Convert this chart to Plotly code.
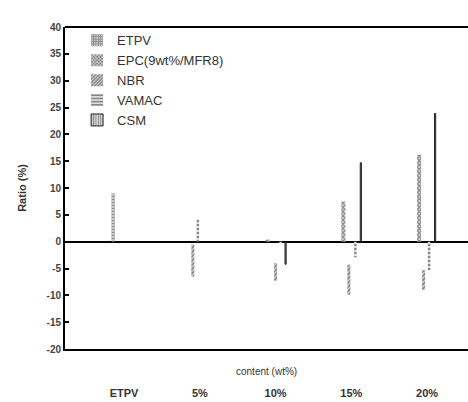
import plotly.graph_objects as go

# Categories along the x axis
categories = ["ETPV", "5%", "10%", "15%", "20%"]

# Ratio (%) for each material at each content level (None = not drawn)
etpv = [9.0, None, None, None, None]
epc = [None, None, 0.4, 7.5, 16.2]
nbr_top = [None, -0.5, -4.0, -4.3, -5.3]
nbr_bottom = [None, -6.5, -7.3, -9.9, -9.0]
vamac = [None, 4.2, -0.4, -2.9, -5.3]
csm = [None, None, -4.2, 14.7, 23.9]

# y axis ticks
y_ticks = [40, 35, 30, 25, 20, 15, 10, 5, 0, -5, -10, -15, -20]
y_tick_text = ["40", "35", "30", "25", "20", "15", "10", "5", "0", "-5", "-10", "-15", "-20"]

# ---- geometry helpers (pixels -> x axis units) ----
X_RANGE = [-0.78, 4.54]
PLOT_W = 468 - 65
PLOT_H = 349 - 27
PX = (X_RANGE[1] - X_RANGE[0]) / PLOT_W


def bar_geom(centers_px, width_px):
    """Return (offset, width) in axis units for thin bars centred at given pixel shifts."""
    w = width_px * PX
    if isinstance(centers_px, (list, tuple)):
        return [c * PX - w / 2 for c in centers_px], w
    return centers_px * PX - w / 2, w


xs = list(range(len(categories)))
INK = "#111111"

fig = go.Figure()


def add_bar(name, y, base, centers_px, width_px, shape, size, solidity, line_w=0):
    off, w = bar_geom(centers_px, width_px)
    fig.add_trace(go.Bar(
        name=name, x=xs, y=y, base=base, offset=off, width=w,
        legendgroup=name,
        marker=dict(
            color="white",
            line=dict(width=line_w, color=INK),
            pattern=dict(shape=shape, size=size, solidity=solidity,
                         fgcolor=INK, bgcolor="white", fillmode="overlay"),
        ),
        hoverinfo="skip",
    ))


nbr_len = [None if (t is None or b is None) else b - t for t, b in zip(nbr_top, nbr_bottom)]

add_bar("ETPV", etpv, None, -11, 3, "+", 3, 0.75)
add_bar("EPC(9wt%/MFR8)", epc, None, -8, 4, "x", 3, 0.75)
add_bar("NBR", nbr_len, nbr_top, [0, -7, 0, -2.5, -3.5], 3, "/", 3, 0.75)
add_bar("VAMAC", vamac, None, [0, -2, 5, 4, 2], 2.5, "-", 4, 0.65)
add_bar("CSM", csm, None, [0, 0, 10, 9.5, 8], 1.2, "|", 3, 0.6, line_w=0.9)

FONT = "Liberation Sans, Arial, sans-serif"

fig.update_layout(
    width=468, height=402,
    margin=dict(l=65, r=0, t=27, b=402 - 349),
    paper_bgcolor="white", plot_bgcolor="white",
    font=dict(family=FONT, color="#333333"),
    showlegend=True,
    legend=dict(
        x=0.03, y=1.005, xanchor="left", yanchor="top",
        bgcolor="rgba(0,0,0,0)", borderwidth=0,
        font=dict(family=FONT, size=13, color="#333333"),
        tracegroupgap=8, traceorder="normal",
    ),
    barmode="overlay",
    xaxis=dict(
        range=X_RANGE, showgrid=False, zeroline=False, automargin=False,
        showline=True, linewidth=2, linecolor="black", mirror=False,
        ticks="", tickmode="array", tickvals=xs, ticktext=categories,
        ticklabelstandoff=33,
        tickfont=dict(family=FONT, size=11, color="#333333", weight="bold"),
    ),
    yaxis=dict(
        range=[-20, 40], tickmode="array", tickvals=y_ticks, ticktext=y_tick_text,
        automargin=False, mirror=False,
        showgrid=False, showline=True, linewidth=2, linecolor="black",
        ticks="inside", ticklen=4, tickwidth=1.5, tickcolor="black",
        tickfont=dict(family=FONT, size=10, color="#444444", weight="bold"),
        zeroline=True, zerolinecolor="black", zerolinewidth=2,
        title=dict(text="Ratio (%)", font=dict(family=FONT, size=11, color="#333333", weight="bold"),
                   standoff=18),
    ),
    # frame line along the top of the plot area
    shapes=[dict(type="line", xref="paper", yref="paper", x0=0, x1=1, y0=1, y1=1,
                 line=dict(color="black", width=2))],
    annotations=[dict(
        text="content (wt%)", xref="paper", yref="paper",
        x=0.5, y=-(371 - 349) / PLOT_H, xanchor="center", yanchor="middle",
        showarrow=False, font=dict(family=FONT, size=10, color="#333333"),
    )],
)

fig.write_html("out.html")
